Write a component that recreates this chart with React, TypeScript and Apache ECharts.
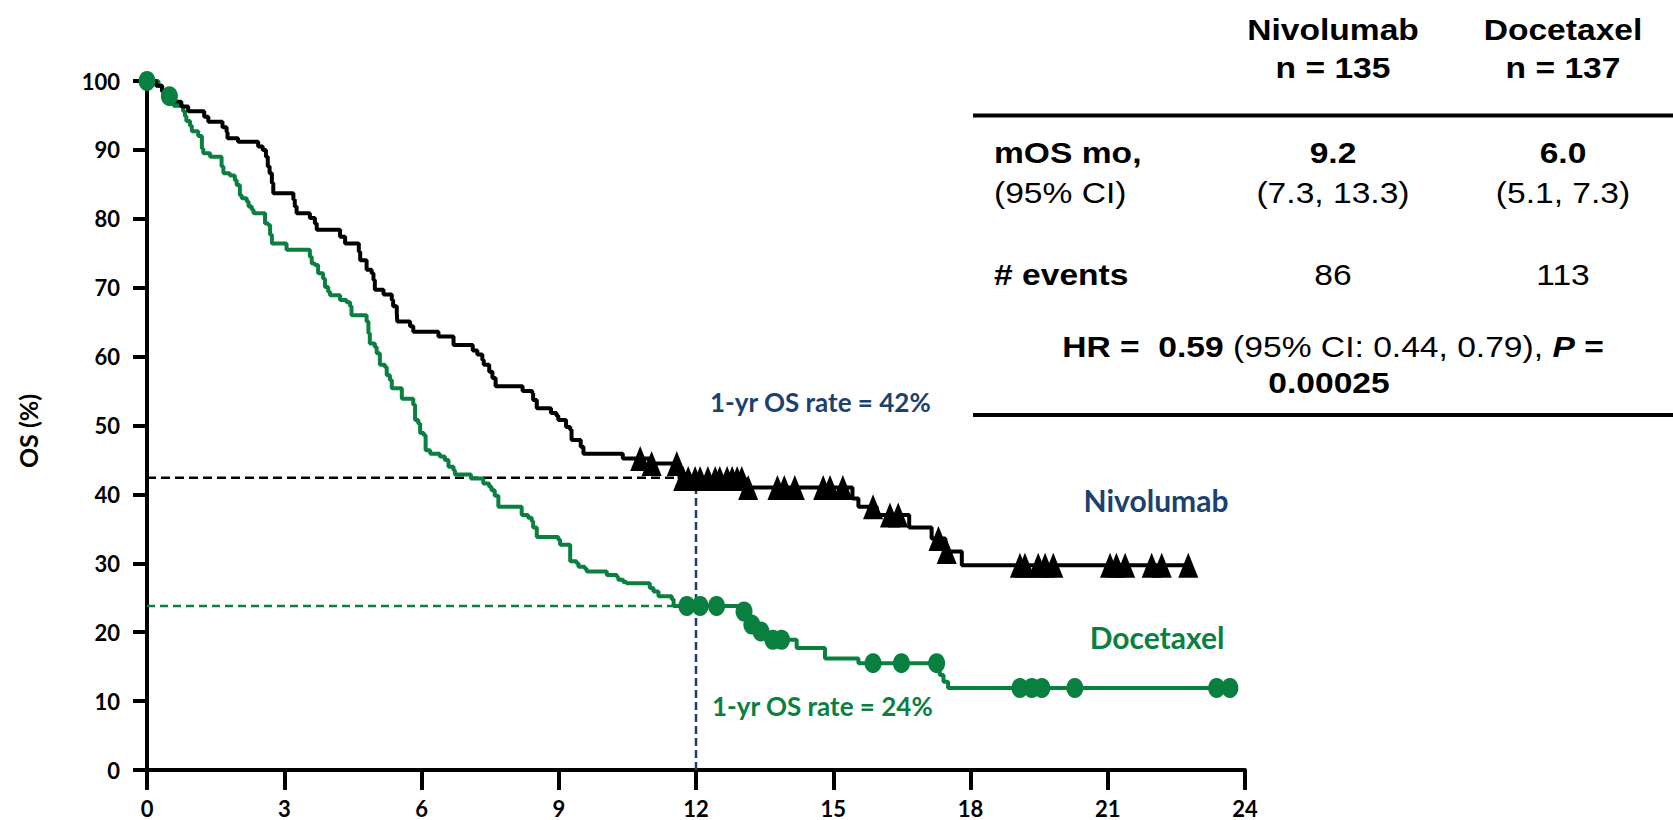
import React, { useEffect, useRef } from 'react';
import * as echarts from 'echarts';

// ---------- Data ----------
const xTicks = [0, 3, 6, 9, 12, 15, 18, 21, 24];
const yTicks = [0, 10, 20, 30, 40, 50, 60, 70, 80, 90, 100];

// Nivolumab Kaplan-Meier steps (month, OS %)
const nivoT = [0, 0.20, 0.33, 0.45, 0.55, 0.75, 0.90, 1.25, 1.34, 1.65, 1.74, 1.76, 1.99, 2.43, 2.53, 2.60, 2.64, 2.68, 2.73, 2.76, 3.20, 3.23, 3.27, 3.56, 3.67, 3.71, 4.22, 4.33, 4.63, 4.66, 4.80, 4.91, 4.95, 4.98, 5.17, 5.35, 5.38, 5.46, 5.47, 5.75, 5.82, 6.37, 6.70, 7.12, 7.22, 7.33, 7.36, 7.48, 7.55, 7.62, 8.21, 8.42, 8.44, 8.52, 8.83, 8.95, 8.99, 9.16, 9.25, 9.28, 9.48, 9.54, 10.40, 10.98, 11.64, 13.08, 15.42, 15.55, 15.95, 16.66, 17.15, 17.45, 17.81];
const nivoS = [100, 99.3, 98.5, 97.8, 97.0, 96.3, 95.6, 94.8, 94.1, 93.3, 92.6, 91.7, 91.2, 90.5, 90.0, 89.0, 87.6, 86.6, 85.2, 83.7, 82.8, 81.8, 80.8, 80.1, 79.3, 78.4, 77.4, 76.4, 75.2, 74.0, 72.6, 72.1, 71.1, 69.7, 69.0, 68.2, 67.3, 66.3, 65.1, 64.4, 63.6, 62.9, 61.7, 60.9, 60.3, 59.5, 58.8, 57.8, 56.9, 55.7, 55.0, 54.7, 53.7, 52.5, 51.8, 51.4, 50.8, 49.8, 49.4, 47.9, 46.9, 45.9, 45.2, 44.5, 42.3, 41.0, 39.4, 38.2, 37.0, 35.2, 33.6, 31.7, 29.7];
const nivoCensor = [10.78, 11.03, 11.58, 11.72, 11.83, 11.98, 12.09, 12.26, 12.42, 12.52, 12.68, 12.79, 12.90, 13.00, 13.14, 13.78, 13.93, 14.16, 14.78, 14.93, 15.21, 15.87, 16.24, 16.42, 17.30, 17.48, 19.08, 19.19, 19.48, 19.63, 19.81, 21.05, 21.19, 21.38, 21.96, 22.18, 22.76];

// Docetaxel Kaplan-Meier steps (month, OS %)
const doceT = [0, 0.25, 0.33, 0.42, 0.50, 0.58, 0.79, 0.83, 0.86, 0.94, 0.98, 1.12, 1.20, 1.23, 1.38, 1.63, 1.67, 1.81, 1.92, 1.96, 2.03, 2.07, 2.18, 2.22, 2.29, 2.33, 2.58, 2.65, 2.69, 2.73, 3.05, 3.56, 3.60, 3.67, 3.74, 3.85, 3.89, 3.96, 4.00, 4.22, 4.36, 4.44, 4.47, 4.80, 4.84, 4.87, 4.98, 5.02, 5.09, 5.20, 5.24, 5.31, 5.35, 5.57, 5.82, 5.86, 5.93, 5.97, 6.05, 6.09, 6.19, 6.40, 6.51, 6.59, 6.70, 6.73, 7.08, 7.35, 7.48, 7.53, 7.60, 7.68, 8.19, 8.33, 8.41, 8.44, 8.52, 8.99, 9.03, 9.25, 9.39, 9.43, 9.57, 9.61, 10.05, 10.27, 10.30, 10.41, 10.48, 10.99, 11.07, 11.18, 11.47, 11.51, 12.98, 13.15, 13.35, 13.58, 14.20, 14.82, 15.55, 17.33, 17.41, 17.51];
const doceS = [100, 99.3, 98.5, 97.8, 97.1, 96.4, 95.6, 94.9, 94.2, 93.5, 92.7, 92.0, 90.2, 89.5, 89.0, 87.6, 86.6, 86.3, 85.6, 84.9, 83.4, 83.0, 82.5, 81.8, 81.3, 80.8, 79.3, 79.1, 77.7, 76.4, 75.5, 74.5, 73.5, 73.3, 72.1, 71.3, 70.1, 69.4, 68.9, 68.2, 67.9, 67.3, 66.0, 65.1, 63.4, 61.9, 61.4, 60.5, 58.8, 58.5, 57.3, 56.6, 55.4, 53.9, 53.0, 50.8, 50.3, 48.9, 48.6, 46.4, 45.9, 45.5, 45.0, 44.0, 43.5, 42.9, 42.3, 41.6, 41.1, 40.6, 39.8, 38.2, 37.0, 36.6, 36.1, 35.2, 33.8, 33.4, 32.7, 30.3, 30.0, 29.5, 29.2, 28.8, 28.3, 28.0, 27.6, 27.3, 27.1, 26.4, 25.9, 25.2, 24.8, 23.8, 23.0, 21.1, 20.1, 18.9, 17.7, 16.2, 15.5, 13.8, 12.8, 11.9];
const doceCensor = [0, 0.49, 11.80, 12.09, 12.45, 13.05, 13.22, 13.42, 13.68, 13.87, 15.87, 16.49, 17.26, 19.08, 19.34, 19.56, 20.28, 23.38, 23.67];

// 1-year landmark
const landmarkMonth = 12;
const nivoOneYear = 42.4;
const doceOneYear = 23.8;

// Table
const armNames = ['Nivolumab', 'Docetaxel'];
const armN = ['n = 135', 'n = 137'];
const armMOS = ['9.2', '6.0'];
const armCI = ['(7.3, 13.3)', '(5.1, 7.3)'];
const armEvents = ['86', '113'];

// ---------- Helpers ----------
const survAt = (T: number[], S: number[], t: number) => {
  let v = S[0];
  for (let i = 0; i < T.length; i++) if (T[i] <= t) v = S[i];
  return v;
};
const curve = (T: number[], S: number[], end: number) => {
  const d = T.map((t, i) => [t, S[i]]);
  d.push([end, S[S.length - 1]]);
  return d;
};

const GREEN = '#0a8040';
const NAVY = '#1b416e';
const ARIAL = "'Liberation Sans', Arial, sans-serif";
const LATO = "Lato, 'Open Sans', sans-serif";
const STRETCH = 1.12;

export default function App() {
  const ref = useRef<HTMLDivElement>(null);
  useEffect(() => {
    document.body.style.margin = '0';
    const chart = echarts.init(ref.current!, null, { renderer: 'svg' });
    const nivoEnd = Math.max(...nivoCensor);
    const doceEnd = Math.max(...doceCensor);
    const colX = [1333, 1563];
    const txt = (text: string, x: number, y: number, o: any = {}) => ({
      type: 'text', x, y, z: 100, scaleX: STRETCH,
      style: { text, fill: '#000', fontFamily: ARIAL, fontSize: 30, align: 'center', verticalAlign: 'middle', ...o },
    });
    const graphic: any[] = [
      { type: 'text', x: 28, y: 431, rotation: Math.PI / 2, style: { text: 'OS (%)', fill: '#000', fontFamily: LATO, fontWeight: 'bold', fontSize: 25, align: 'center', verticalAlign: 'middle' } },
      { type: 'text', x: 710, y: 402, style: { text: '1-yr OS rate = 42%', fill: NAVY, fontFamily: LATO, fontWeight: 'bold', fontSize: 26, align: 'left', verticalAlign: 'middle' } },
      { type: 'text', x: 712, y: 706, style: { text: '1-yr OS rate = 24%', fill: GREEN, fontFamily: LATO, fontWeight: 'bold', fontSize: 26, align: 'left', verticalAlign: 'middle' } },
      { type: 'text', x: 1156, y: 500, style: { text: 'Nivolumab', fill: NAVY, fontFamily: LATO, fontWeight: 'bold', fontSize: 30, align: 'center', verticalAlign: 'middle' } },
      { type: 'text', x: 1157, y: 637, style: { text: 'Docetaxel', fill: GREEN, fontFamily: LATO, fontWeight: 'bold', fontSize: 30, align: 'center', verticalAlign: 'middle' } },
      { type: 'line', shape: { x1: 973, y1: 115.5, x2: 1673, y2: 115.5 }, style: { stroke: '#000', lineWidth: 4 } },
      { type: 'line', shape: { x1: 973, y1: 415, x2: 1673, y2: 415 }, style: { stroke: '#000', lineWidth: 4 } },
      txt('mOS mo,', 994, 153, { align: 'left', fontWeight: 'bold' }),
      txt('(95% CI)', 994, 193, { align: 'left' }),
      txt('# events', 994, 275, { align: 'left', fontWeight: 'bold' }),
      {
        type: 'text', x: 1333, y: 347, z: 100, scaleX: STRETCH,
        style: {
          text: '{b|HR =  0.59} {r|(95% CI: 0.44, 0.79),} {bi|P} {b|=}',
          align: 'center', verticalAlign: 'middle', fill: '#000',
          fontFamily: ARIAL, fontSize: 30,
          rich: {
            b: { fontFamily: ARIAL, fontSize: 30, fontWeight: 'bold', fill: '#000' },
            r: { fontFamily: ARIAL, fontSize: 30, fill: '#000' },
            bi: { fontFamily: ARIAL, fontSize: 30, fontWeight: 'bold', fontStyle: 'italic', fill: '#000' },
          },
        },
      },
      txt('0.00025', 1329, 383, { fontWeight: 'bold' }),
    ];
    armNames.forEach((n, i) => {
      graphic.push(txt(n, colX[i], 30, { fontWeight: 'bold' }));
      graphic.push(txt(armN[i], colX[i], 68, { fontWeight: 'bold' }));
      graphic.push(txt(armMOS[i], colX[i], 153, { fontWeight: 'bold' }));
      graphic.push(txt(armCI[i], colX[i], 193));
      graphic.push(txt(armEvents[i], colX[i], 275));
    });

    const tickRich = { t: { fontFamily: LATO, fontWeight: 'bold', fontSize: 22, lineHeight: 22, color: '#000' } };
    chart.setOption({
      animation: false,
      textStyle: { fontFamily: LATO },
      grid: { left: 147, right: 428, top: 81, bottom: 50, containLabel: false, outerBoundsMode: 'none' },
      xAxis: {
        type: 'value', min: xTicks[0], max: xTicks[xTicks.length - 1], interval: 3,
        axisLine: { lineStyle: { color: '#000', width: 4 } },
        axisTick: { length: 20, lineStyle: { color: '#000', width: 4 } },
        axisLabel: {
          show: true, color: '#000', fontFamily: LATO, fontWeight: 'bold', fontSize: 22, lineHeight: 22, margin: 27,
          rich: tickRich,
          formatter: (v: number) => (xTicks.includes(v) ? `{t|${v}}` : ''),
        },
        splitLine: { show: false },
      },
      yAxis: {
        type: 'value', min: yTicks[0], max: yTicks[yTicks.length - 1], interval: 10,
        axisLine: { show: true, lineStyle: { color: '#000', width: 4 } },
        axisTick: { show: true, length: 14, lineStyle: { color: '#000', width: 4 } },
        axisLabel: {
          show: true, color: '#000', fontFamily: LATO, fontWeight: 'bold', fontSize: 22, lineHeight: 22, margin: 27,
          rich: tickRich,
          formatter: (v: number) => (yTicks.includes(v) ? `{t|${v}}` : ''),
        },
        splitLine: { show: false },
      },
      graphic,
      series: [
        {
          type: 'line', z: 1, silent: true, showSymbol: false,
          data: [[0, nivoOneYear], [landmarkMonth, nivoOneYear]],
          lineStyle: { color: '#000', width: 2.5, type: [9, 5] },
        },
        {
          type: 'line', z: 1, silent: true, showSymbol: false,
          data: [[0, doceOneYear], [landmarkMonth, doceOneYear]],
          lineStyle: { color: GREEN, width: 2.5, type: [8, 5] },
        },
        {
          type: 'line', z: 1, silent: true, showSymbol: false,
          data: [[landmarkMonth, 0], [landmarkMonth, nivoOneYear]],
          lineStyle: { color: NAVY, width: 2.5, type: [8, 4] },
        },
        {
          name: 'Docetaxel', type: 'line', step: 'end', z: 3, showSymbol: false,
          data: curve(doceT, doceS, doceEnd),
          lineStyle: { color: GREEN, width: 4 },
        },
        {
          name: 'Nivolumab', type: 'line', step: 'end', z: 4, showSymbol: false,
          data: curve(nivoT, nivoS, nivoEnd),
          lineStyle: { color: '#000', width: 4 },
        },
        {
          type: 'scatter', z: 5, symbol: 'circle', symbolSize: [17, 20],
          itemStyle: { color: GREEN, opacity: 1 },
          data: doceCensor.map((t) => [t, survAt(doceT, doceS, t)]),
        },
        {
          type: 'scatter', z: 6, symbol: 'triangle', symbolSize: [20, 25],
          itemStyle: { color: '#000', opacity: 1 },
          data: nivoCensor.map((t) => [t, survAt(nivoT, nivoS, t)]),
        },
      ],
    });
    return () => chart.dispose();
  }, []);
  return <div ref={ref} style={{ position: 'absolute', left: 0, top: 0, width: 1673, height: 820 }} />;
}
